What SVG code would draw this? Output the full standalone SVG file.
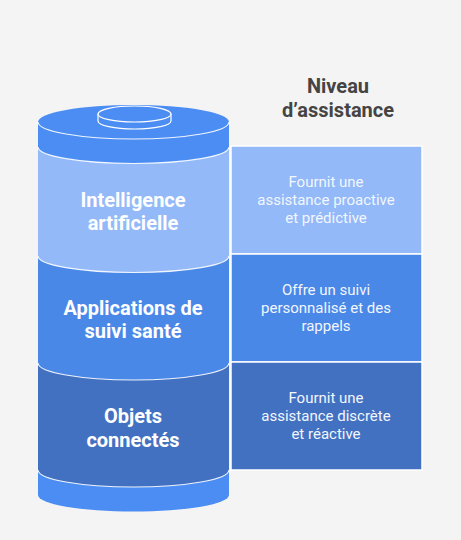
<svg xmlns="http://www.w3.org/2000/svg" width="461" height="540" viewBox="0 0 461 540">
<style>
.bg{fill:#f4f4f4}
.band{fill:#4b8df3}
.light{fill:#93b9f8}
.mid{fill:#4a88e8}
.dark{fill:#4371c1}
.edge{fill:none;stroke:#ffffff;stroke-width:1.2;stroke-opacity:0.9}
.lbl{font-family:Roboto,"Liberation Sans",sans-serif;font-weight:bold;font-size:20px;fill:#ffffff;text-anchor:middle}
.desc{font-family:Roboto,"Liberation Sans",sans-serif;font-size:15px;fill:#f2f6fe;text-anchor:middle}
.title{font-family:Roboto,"Liberation Sans",sans-serif;font-weight:bold;font-size:20px;fill:#444444;text-anchor:middle}
.box{stroke:#ffffff;stroke-width:1.5}
</style>
<rect class="bg" x="0" y="0" width="461" height="540"/>
<g id="title">
<text class="title" x="338" y="93">Niveau</text>
<text class="title" x="338" y="117">d’assistance</text>
</g>
<g id="cylinder-base">
<path class="band" d="M38,470 L38,495 A95.5,16.5 0 0 0 229,495 L229,470 Z"/>
</g>
<g id="layer-objets">
<path class="dark" d="M38,363 L38,470 A95.5,17 0 0 0 229,470 L229,363 Z"/>
<path class="edge" d="M38,470 A95.5,17 0 0 0 229,470"/>
<text class="lbl" x="133" y="423">Objets</text>
<text class="lbl" x="133" y="447">connectés</text>
</g>
<g id="layer-applications">
<path class="mid" d="M38,256 L38,363 A95.5,17 0 0 0 229,363 L229,256 Z"/>
<path class="edge" d="M38,363 A95.5,17 0 0 0 229,363"/>
<text class="lbl" x="133" y="315">Applications de</text>
<text class="lbl" x="133" y="338">suivi santé</text>
</g>
<g id="layer-ia">
<path class="light" d="M38,147 L38,256 A95.5,16.5 0 0 0 229,256 L229,147 Z"/>
<path class="edge" d="M38,256 A95.5,16.5 0 0 0 229,256"/>
<text class="lbl" x="133" y="207">Intelligence</text>
<text class="lbl" x="133" y="230">artificielle</text>
</g>
<g id="cylinder-top">
<path class="band" d="M38,122 L38,147 A95.5,16.5 0 0 0 229,147 L229,122 Z"/>
<path class="edge" d="M38,147 A95.5,16.5 0 0 0 229,147"/>
<ellipse class="band" cx="133.5" cy="122" rx="95.5" ry="17"/>
<path class="edge" d="M38,122 A95.5,17 0 0 0 229,122"/>
<path class="band" d="M98,114 L98,121 A36.5,8 0 0 0 171,121 L171,114 Z" stroke="#ffffff" stroke-width="1.2"/>
<ellipse class="band" cx="134.5" cy="114" rx="36.5" ry="8" stroke="#ffffff" stroke-width="1.2"/>
</g>
<g id="box-ia">
<rect class="box light" x="231" y="146" width="191" height="108"/>
<text class="desc" x="326" y="187">Fournit une</text>
<text class="desc" x="326" y="205">assistance proactive</text>
<text class="desc" x="326" y="223">et prédictive</text>
</g>
<g id="box-applications">
<rect class="box mid" x="231" y="254" width="191" height="108"/>
<text class="desc" x="326" y="295">Offre un suivi</text>
<text class="desc" x="326" y="313">personnalisé et des</text>
<text class="desc" x="326" y="331">rappels</text>
</g>
<g id="box-objets">
<rect class="box dark" x="231" y="362" width="191" height="108"/>
<text class="desc" x="326" y="403">Fournit une</text>
<text class="desc" x="326" y="421">assistance discrète</text>
<text class="desc" x="326" y="439">et réactive</text>
</g>
<g id="connectors"></g>
</svg>
